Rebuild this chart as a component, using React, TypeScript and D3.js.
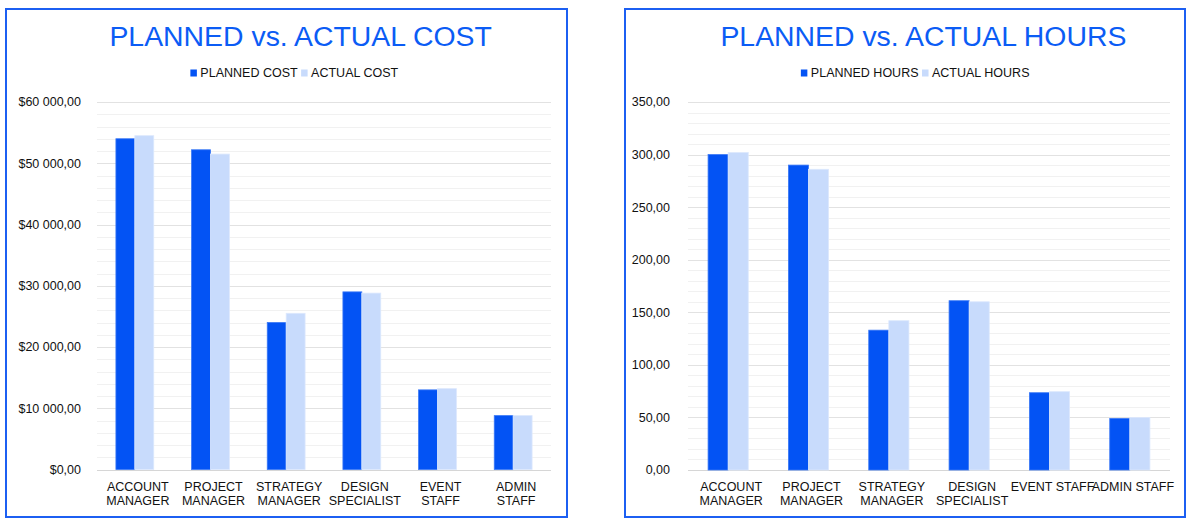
import React from "react";
import * as d3 from "d3";

// Roles shown on both charts
const roles = [
  "ACCOUNT MANAGER",
  "PROJECT MANAGER",
  "STRATEGY MANAGER",
  "DESIGN SPECIALIST",
  "EVENT STAFF",
  "ADMIN STAFF",
];

// Axis label line breaks for each chart
const costTickLines = [
  ["ACCOUNT", "MANAGER"],
  ["PROJECT", "MANAGER"],
  ["STRATEGY", "MANAGER"],
  ["DESIGN", "SPECIALIST"],
  ["EVENT", "STAFF"],
  ["ADMIN", "STAFF"],
];
const hoursTickLines = [
  ["ACCOUNT", "MANAGER"],
  ["PROJECT", "MANAGER"],
  ["STRATEGY", "MANAGER"],
  ["DESIGN", "SPECIALIST"],
  ["EVENT STAFF"],
  ["ADMIN STAFF"],
];

// Series values
const plannedCost = [54000, 52200, 24000, 29000, 13000, 8800];
const actualCost = [54500, 51500, 25500, 28800, 13200, 8800];
const plannedHours = [300, 290, 133, 161, 73.5, 49];
const actualHours = [302, 286, 142, 160, 74.5, 50];

const costLegend = ["PLANNED COST", "ACTUAL COST"];
const hoursLegend = ["PLANNED HOURS", "ACTUAL HOURS"];

const FONT = "'Liberation Sans', Arial, Helvetica, sans-serif";
const PLANNED_COLOR = "#0353f4";
const ACTUAL_COLOR = "#c8dbfc";
const BLUE = "#0b5cf5";

const locale = d3.formatLocale({
  decimal: ",",
  thousands: " ",
  grouping: [3],
  currency: ["$", ""],
});
const fmtCost = locale.format("$,.2f");
const fmtHours = locale.format(",.2f");

let ctx: CanvasRenderingContext2D | null = null;
function textWidth(s: string, size: number) {
  if (!ctx) ctx = document.createElement("canvas").getContext("2d");
  if (!ctx) return s.length * size * 0.6;
  ctx.font = `${size}px ${FONT}`;
  return ctx.measureText(s).width;
}

type Box = { x: number; y: number; w: number; h: number };
type Plot = { left: number; right: number; top: number; bottom: number };

function Panel(props: {
  box: Box;
  plot: Plot;
  title: string;
  titleX: number;
  legend: string[];
  legendX: number;
  tickLines: string[][];
  planned: number[];
  actual: number[];
  yMax: number;
  major: number;
  minor: number;
  fmt: (v: number) => string;
  labelRight: number;
}) {
  const { box, plot, title, titleX, legend, legendX, tickLines, planned, actual, yMax, major, minor, fmt, labelRight } = props;

  const x0 = d3
    .scaleBand<string>()
    .domain(roles)
    .range([plot.left, plot.right])
    .paddingInner(0.5)
    .paddingOuter(0.25);
  const x1 = d3.scaleBand<string>().domain(["planned", "actual"]).range([0, x0.bandwidth()]);
  const y = d3.scaleLinear().domain([0, yMax]).range([plot.bottom, plot.top]);

  const majorTicks = d3.range(0, yMax + 1e-9, major);
  const minorTicks = d3
    .range(0, yMax + 1e-9, minor)
    .filter((v) => Math.abs(v / major - Math.round(v / major)) > 1e-6);

  const crisp = (v: number) => Math.round(v) + 0.5;

  // legend layout
  const fs = 12.5;
  const sw = 6.5;
  const g1 = 3.5;
  const g2 = 3.5;
  const w1 = textWidth(legend[0], fs);
  const w2 = textWidth(legend[1], fs);
  const total = sw + g1 + w1 + g2 + sw + g1 + w2;
  const lx = legendX - total / 2;
  const legendY = 77;

  return (
    <g>
      <rect x={box.x} y={box.y} width={box.w} height={box.h} fill="#fff" stroke="#1c5ff2" strokeWidth={2} />
      <text x={titleX} y={46} textAnchor="middle" fontSize={28.4} fill={BLUE} fontFamily={FONT}>
        {title}
      </text>

      {/* legend */}
      <rect x={lx} y={legendY - 7.5} width={sw} height={7} fill={PLANNED_COLOR} />
      <text x={lx + sw + g1} y={legendY} fontSize={fs} fontFamily={FONT} fill="#111">
        {legend[0]}
      </text>
      <rect x={lx + sw + g1 + w1 + g2} y={legendY - 7.5} width={sw} height={7} fill={ACTUAL_COLOR} />
      <text x={lx + sw + g1 + w1 + g2 + sw + g1} y={legendY} fontSize={fs} fontFamily={FONT} fill="#111">
        {legend[1]}
      </text>

      {/* grid */}
      {minorTicks.map((t) => (
        <line key={"m" + t} x1={plot.left} x2={plot.right} y1={crisp(y(t))} y2={crisp(y(t))} stroke="#f1f1f1" />
      ))}
      {majorTicks.map((t) => (
        <line
          key={"M" + t}
          x1={plot.left}
          x2={plot.right}
          y1={crisp(y(t))}
          y2={crisp(y(t))}
          stroke={t === 0 ? "#d6d6d6" : "#e2e2e2"}
        />
      ))}
      {majorTicks.map((t) => (
        <text
          key={"l" + t}
          x={labelRight}
          y={y(t)}
          dy="0.35em"
          textAnchor="end"
          fontSize={fs}
          fontFamily={FONT}
          fill="#111"
        >
          {fmt(t)}
        </text>
      ))}

      {/* bars */}
      {roles.map((r, i) => (
        <g key={r} transform={`translate(${x0(r)},0)`}>
          <rect
            x={x1("planned")}
            y={y(planned[i])}
            width={x1.bandwidth()}
            height={y(0) - y(planned[i])}
            fill={PLANNED_COLOR}
            stroke="#3a78f6"
            strokeWidth={0.8}
          />
          <rect
            x={x1("actual")}
            y={y(actual[i])}
            width={x1.bandwidth()}
            height={y(0) - y(actual[i])}
            fill={ACTUAL_COLOR}
            stroke="#dce8fd"
            strokeWidth={0.8}
          />
        </g>
      ))}

      {/* category labels */}
      {roles.map((r, i) => (
        <text
          key={"c" + r}
          x={(x0(r) as number) + x0.bandwidth() / 2 + 3}
          y={491}
          textAnchor="middle"
          fontSize={fs}
          fontFamily={FONT}
          fill="#111"
        >
          {tickLines[i].map((ln, j) => (
            <tspan key={j} x={(x0(r) as number) + x0.bandwidth() / 2 + 3} dy={j === 0 ? 0 : 14}>
              {ln}
            </tspan>
          ))}
        </text>
      ))}
    </g>
  );
}

export default function App() {
  return (
    <svg
      width={1196}
      height={528}
      style={{ position: "absolute", left: 0, top: 0, background: "#fff" }}
    >
      <rect x={0} y={0} width={1196} height={528} fill="#fff" />
      <Panel
        box={{ x: 6, y: 9, w: 561, h: 508 }}
        plot={{ left: 97, right: 551, top: 102, bottom: 469.5 }}
        title="PLANNED vs. ACTUAL COST"
        titleX={300.6}
        legend={costLegend}
        legendX={294.5}
        tickLines={costTickLines}
        planned={plannedCost}
        actual={actualCost}
        yMax={60000}
        major={10000}
        minor={2000}
        fmt={fmtCost}
        labelRight={81}
      />
      <Panel
        box={{ x: 625, y: 9, w: 560, h: 508 }}
        plot={{ left: 688, right: 1170, top: 102, bottom: 470 }}
        title="PLANNED vs. ACTUAL HOURS"
        titleX={923.4}
        legend={hoursLegend}
        legendX={915.4}
        tickLines={hoursTickLines}
        planned={plannedHours}
        actual={actualHours}
        yMax={350}
        major={50}
        minor={10}
        fmt={fmtHours}
        labelRight={670}
      />
    </svg>
  );
}
